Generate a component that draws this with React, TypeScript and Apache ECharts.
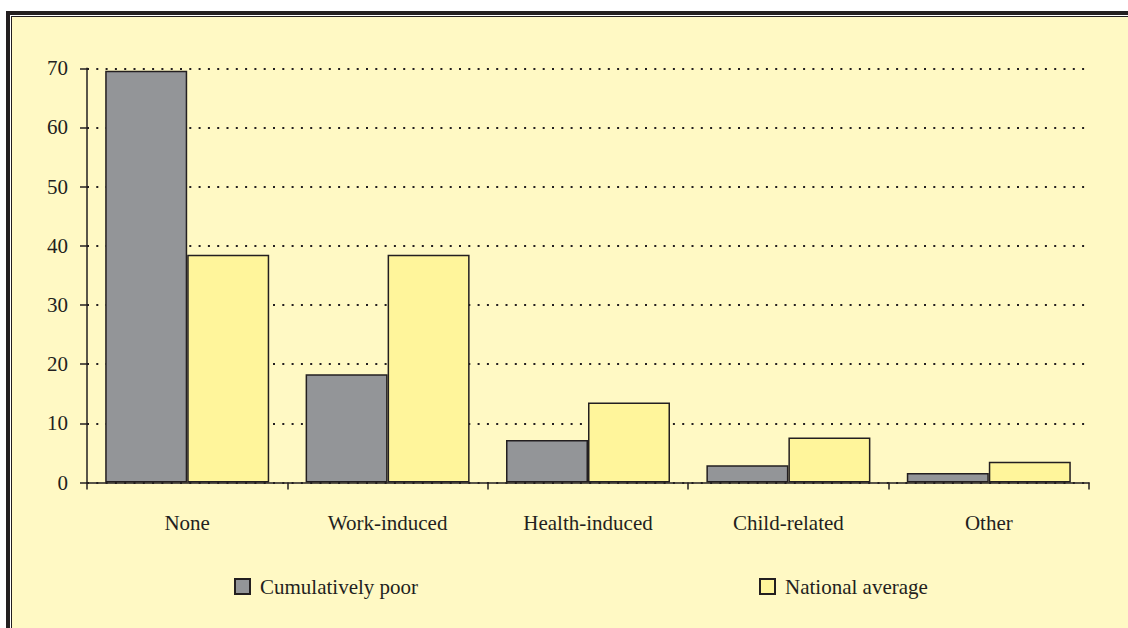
import React, { useEffect, useRef } from "react";
import * as echarts from "echarts";

const categories = ["None", "Work-induced", "Health-induced", "Child-related", "Other"];
const cumulativelyPoor = [69.6, 18.3, 7.2, 2.9, 1.6];
const nationalAverage = [38.5, 38.5, 13.5, 7.6, 3.5];
const yTicks = { min: 0, max: 70, interval: 10 };

const BG = "#FFF9C4";
const INK = "#231F20";
const GRAY = "#939598";
const YELLOW = "#FFF59B";
const FONT = "'Liberation Serif', 'DejaVu Serif', serif";
const FS = 21;

export default function App() {
  const ref = useRef<HTMLDivElement>(null);
  useEffect(() => {
    const chart = echarts.init(ref.current!, null, { renderer: "svg" });
    const legendBase = {
      top: 576,
      padding: 0,
      itemWidth: 15,
      itemHeight: 15,
      itemGap: 10,
      icon: "rect",
      textStyle: { fontFamily: FONT, fontSize: FS, color: INK, padding: [0, 0, 0, 5] },
    };
    chart.setOption({
      animation: false,
      backgroundColor: "#ffffff",
      graphic: [
        { type: "rect", z: -10, shape: { x: 6, y: 11, width: 1200, height: 700 }, style: { fill: INK } },
        { type: "rect", z: -10, shape: { x: 10, y: 15, width: 1200, height: 700 }, style: { fill: "#ffffff" } },
        { type: "rect", z: -10, shape: { x: 11, y: 16, width: 1200, height: 700 }, style: { fill: INK } },
        { type: "rect", z: -10, shape: { x: 12, y: 17, width: 1200, height: 700 }, style: { fill: BG } },
      ],
      grid: { left: 87, right: 39, top: 68.3, bottom: 145.5, containLabel: false },
      legend: [
        { ...legendBase, data: ["Cumulatively poor"], left: 234 },
        { ...legendBase, data: ["National average"], left: 759 },
      ],
      xAxis: {
        type: "category",
        data: categories,
        axisLine: { show: true, lineStyle: { color: INK, width: 1.5 } },
        axisTick: { show: true, length: 7, lineStyle: { color: INK, width: 1.5 } },
        axisLabel: { margin: 30, fontFamily: FONT, fontSize: FS, color: INK },
        splitLine: { show: false },
      },
      yAxis: {
        type: "value",
        min: yTicks.min,
        max: yTicks.max,
        interval: yTicks.interval,
        axisLine: { show: true, lineStyle: { color: INK, width: 1.5 } },
        axisTick: { show: true, length: 7, lineStyle: { color: INK, width: 1.5 } },
        axisLabel: { margin: 19, fontFamily: FONT, fontSize: FS, color: INK, padding: [8, 0, 0, 0] },
        splitLine: {
          show: true,
          lineStyle: { color: INK, width: 2, type: [2, 7.3] },
        },
      },
      series: [
        {
          name: "Cumulatively poor",
          type: "bar",
          data: cumulativelyPoor,
          barWidth: 82,
          barGap: "0%",
          itemStyle: { color: GRAY, borderColor: INK, borderWidth: 1.5 },
        },
        {
          name: "National average",
          type: "bar",
          data: nationalAverage,
          barWidth: 82,
          barGap: "0%",
          itemStyle: { color: YELLOW, borderColor: INK, borderWidth: 1.5 },
        },
      ],
    });
    return () => chart.dispose();
  }, []);
  return (
    <div
      ref={ref}
      style={{ position: "absolute", left: 0, top: 0, width: 1128, height: 628 }}
    />
  );
}
